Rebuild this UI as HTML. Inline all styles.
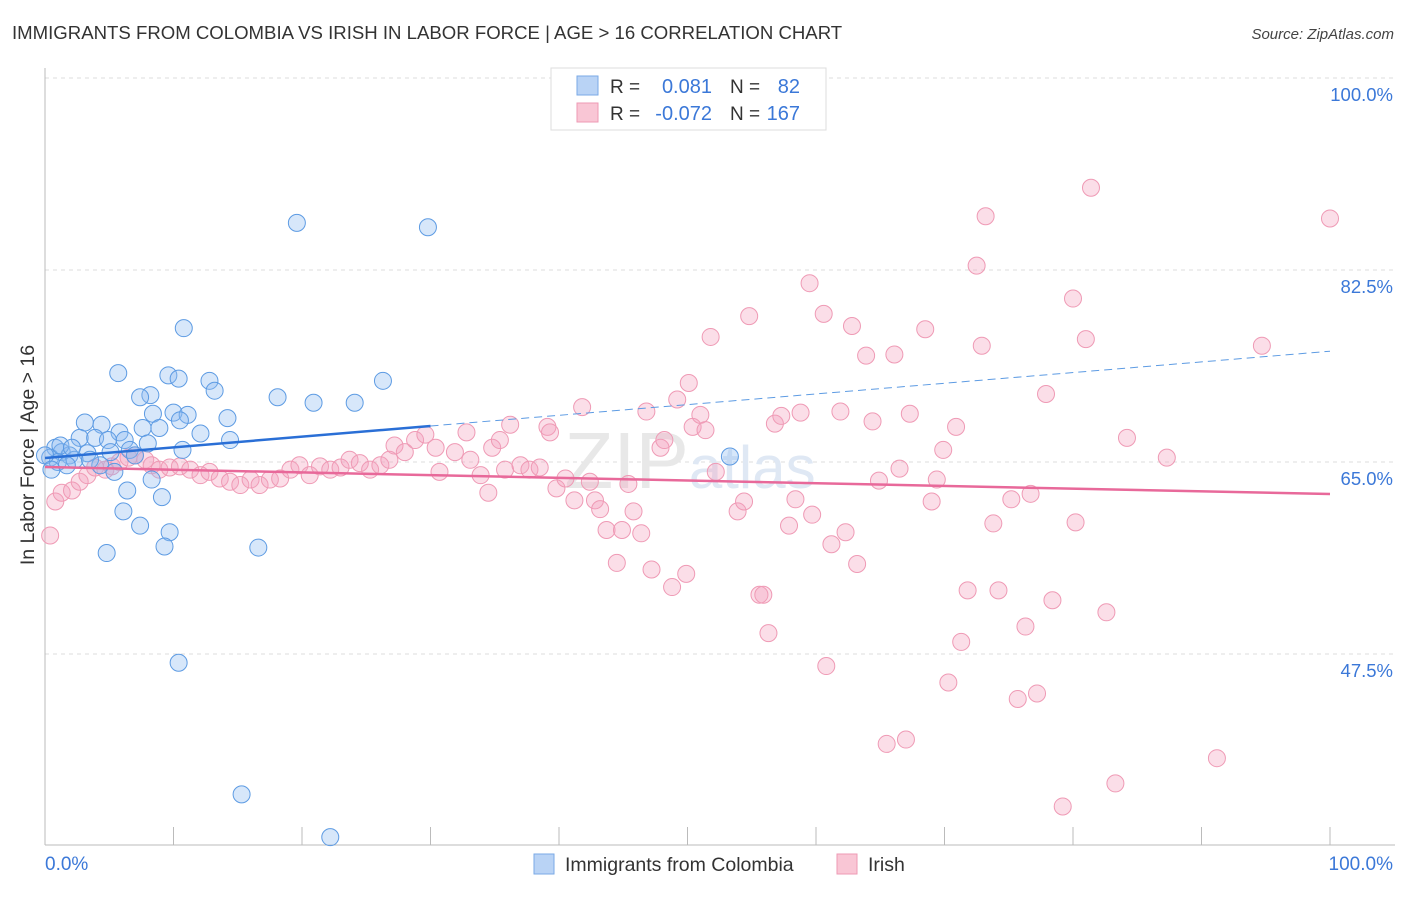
<!DOCTYPE html>
<html><head><meta charset="utf-8"><style>
body{margin:0;background:#fff;font-family:"Liberation Sans",sans-serif}
svg text{font-family:"Liberation Sans",sans-serif}
</style></head><body>
<svg id="chart" width="1406" height="892" xmlns="http://www.w3.org/2000/svg">
<text x="12" y="39" font-size="18.6" fill="#333">IMMIGRANTS FROM COLOMBIA VS IRISH IN LABOR FORCE | AGE &gt; 16 CORRELATION CHART</text>
<text x="1394" y="39" font-size="15" fill="#444" text-anchor="end" font-style="italic">Source: ZipAtlas.com</text>
<g id="grid"></g>
<text x="690" y="488" font-size="80" fill="#e8e8e8" text-anchor="middle" font-family="Liberation Serif">ZIP<tspan fill="#dfe8f4" font-family="Liberation Sans" font-size="60">atlas</tspan></text>
<g id="pts"></g>
<g id="lines"></g>
<text transform="translate(34,455) rotate(-90)" font-size="19.5" fill="#333" text-anchor="middle">In Labor Force | Age &gt; 16</text>
<text x="45" y="870" font-size="19" fill="#3b78d8">0.0%</text>
<text x="1393" y="870" font-size="19" fill="#3b78d8" text-anchor="end">100.0%</text>
<g>
<rect x="551" y="68" width="275" height="62" fill="#fff" stroke="#ddd"/>
<rect x="577" y="76" width="21" height="19" fill="#b9d3f5" stroke="#7aa9e6"/>
<rect x="577" y="103" width="21" height="19" fill="#f9c6d5" stroke="#ee9ab4"/>
<text x="610" y="93" font-size="19" fill="#333">R =</text><text x="712" y="93" font-size="20" fill="#3b78d8" text-anchor="end">0.081</text>
<text x="730" y="93" font-size="19" fill="#333">N =</text><text x="800" y="93" font-size="20" fill="#3b78d8" text-anchor="end">82</text>
<text x="610" y="120" font-size="19" fill="#333">R =</text><text x="712" y="120" font-size="20" fill="#3b78d8" text-anchor="end">-0.072</text>
<text x="730" y="120" font-size="19" fill="#333">N =</text><text x="800" y="120" font-size="20" fill="#3b78d8" text-anchor="end">167</text>
</g>
<g>
<rect x="534" y="854" width="20" height="20" fill="#b9d3f5" stroke="#7aa9e6"/>
<text x="565" y="871" font-size="19.5" fill="#333">Immigrants from Colombia</text>
<rect x="837" y="854" width="20" height="20" fill="#f9c6d5" stroke="#ee9ab4"/>
<text x="868" y="871" font-size="19.5" fill="#333">Irish</text>
</g>
</svg>
<script>
const yTicks=[100,82.5,65,47.5];
const yTickLabels=["100.0%","82.5%","65.0%","47.5%"];
const xTicks=[0,10,20,30,40,50,60,70,80,90,100];
const blueX=[19.6,29.8,10.8,5.7,9.6,10.4,12.8,26.3,8.2,7.4,13.2,18.1,20.9,24.1,8.4,10.0,11.1,14.2,3.1,4.4,5.8,7.6,8.9,12.1,2.7,3.9,4.9,6.2,8.0,10.7,0.8,1.3,1.9,3.3,5.1,6.6,0.4,1.0,2.3,4.3,5.4,1.7,6.4,8.3,9.1,6.1,7.4,9.7,4.8,9.3,16.6,10.4,15.3,22.2,0,0.5,3.5,7.0,1.2,2.1,10.5,14.4,53.3];
const blueY=[86.8,86.4,77.2,73.1,72.9,72.6,72.4,72.4,71.1,70.9,71.5,70.9,70.4,70.4,69.4,69.5,69.3,69.0,68.6,68.4,67.7,68.1,68.1,67.6,67.2,67.2,67.0,67.0,66.7,66.1,66.3,65.9,65.6,65.8,65.9,66.1,65.4,65.0,65.2,64.7,64.1,64.7,62.4,63.4,61.8,60.5,59.2,58.6,56.7,57.3,57.2,46.7,34.7,30.8,65.6,64.3,65.2,65.6,66.5,66.3,68.8,67.0,65.5];
const pinkX=[0.4,0.8,1.3,2.1,2.7,3.3,3.9,4.7,5.2,5.8,6.5,7.0,7.8,8.3,8.9,9.7,10.5,11.3,12.1,12.8,13.6,14.4,15.2,16.0,16.7,17.5,18.3,19.1,19.8,20.6,21.4,22.2,23.0,23.7,24.5,25.3,26.1,26.8,27.2,28.0,28.8,29.6,30.4,30.7,31.9,32.8,33.1,33.9,34.5,34.8,35.4,35.8,36.2,37.0,37.7,38.5,39.1,39.3,39.8,40.5,41.2,41.8,42.4,42.8,43.2,43.7,44.5,44.9,45.4,45.8,46.4,46.8,47.2,47.9,48.2,48.8,49.2,49.9,50.1,50.4,51.0,51.4,51.8,52.2,53.9,54.4,54.8,55.6,55.9,56.3,56.8,57.3,57.9,58.4,58.8,59.5,59.7,60.6,60.8,61.2,61.9,62.3,62.8,63.2,63.9,64.4,64.9,65.5,66.1,66.5,67.0,67.3,68.5,69.0,69.4,69.9,70.3,70.9,71.3,71.8,72.5,72.9,73.2,73.8,74.2,75.2,75.7,76.3,76.7,77.2,77.9,78.4,79.2,80.0,80.2,81.0,81.4,82.6,83.3,84.2,87.3,91.2,94.7,100.0];
const pinkY=[58.3,61.4,62.2,62.4,63.2,63.8,64.5,64.3,64.6,65.0,65.4,65.6,65.2,64.7,64.3,64.5,64.6,64.3,63.8,64.1,63.5,63.2,62.9,63.4,62.9,63.4,63.5,64.3,64.7,63.8,64.6,64.3,64.5,65.2,64.9,64.3,64.7,65.2,66.5,65.9,67.0,67.5,66.3,64.1,65.9,67.7,65.2,63.8,62.2,66.3,67.0,64.3,68.4,64.7,64.3,64.5,68.2,67.7,62.6,63.5,61.5,70.0,63.2,61.5,60.7,58.8,55.8,58.8,63.0,60.5,58.5,69.6,55.2,66.3,67.0,53.6,70.7,54.8,72.2,68.2,69.3,67.9,76.4,64.1,60.5,61.4,78.3,52.9,52.9,49.4,68.5,69.2,59.2,61.6,69.5,81.3,60.2,78.5,46.4,57.5,69.6,58.6,77.4,55.7,74.7,68.7,63.3,39.3,74.8,64.4,39.7,69.4,77.1,61.4,63.4,66.1,44.9,68.2,48.6,53.3,82.9,75.6,87.4,59.4,53.3,61.6,43.4,50.0,62.1,43.9,71.2,52.4,33.6,79.9,59.5,76.2,90.0,51.3,35.7,67.2,65.4,38.0,75.6,87.2];
const blueTrend=[65.36,75.1];
const pinkTrend=[64.54,62.08];
const blueSolidEnd=30;

const NS="http://www.w3.org/2000/svg";
const X=v=>45+v*12.85;
const Y=v=>462-(v-65)*10.97;
function mk(t,a,p){const e=document.createElementNS(NS,t);for(const k in a)e.setAttribute(k,a[k]);p.appendChild(e);return e;}
const grid=document.getElementById('grid');
yTicks.forEach((t,i)=>{
  const l=mk('line',{x1:45,x2:1395,y1:Y(t),y2:Y(t),stroke:'#ddd','stroke-dasharray':'4,4'},grid);
  
  
  const tx=mk('text',{x:1393,y:Y(t)+23,'font-size':18.5,fill:'#3b78d8','text-anchor':'end'},grid);
  tx.textContent=yTickLabels[i];
  
  
});
const ax=mk('line',{x1:45,x2:45,y1:68,y2:845,stroke:'#bbb'},grid);


const bx=mk('line',{x1:45,x2:1395,y1:845,y2:845,stroke:'#bbb'},grid);


xTicks.forEach(t=>{
  const l=mk('line',{x1:X(t),x2:X(t),y1:827,y2:845,stroke:'#bbb'},grid);
  
  
});
const pts=document.getElementById('pts');
pinkX.forEach((x,i)=>{
  const c=mk('circle',{cx:X(x),cy:Y(pinkY[i]),r:8.5,fill:'rgba(244,160,188,0.35)',stroke:'#ef9ab5','stroke-width':1},pts);
  
  
});
blueX.forEach((x,i)=>{
  const c=mk('circle',{cx:X(x),cy:Y(blueY[i]),r:8.5,fill:'rgba(140,185,240,0.35)',stroke:'#5d9be3','stroke-width':1},pts);
  
  
});
const lines=document.getElementById('lines');
const bAt=x=>blueTrend[0]+(blueTrend[1]-blueTrend[0])*x/100;
const b1=mk('line',{x1:X(0),y1:Y(bAt(0)),x2:X(blueSolidEnd),y2:Y(bAt(blueSolidEnd)),stroke:'#2a6fd6','stroke-width':2.5},lines);


const b2=mk('line',{x1:X(blueSolidEnd),y1:Y(bAt(blueSolidEnd)),x2:X(100),y2:Y(bAt(100)),stroke:'#5d9be3','stroke-width':1,'stroke-dasharray':'8,5'},lines);


const p1=mk('line',{x1:X(0),y1:Y(pinkTrend[0]),x2:X(100),y2:Y(pinkTrend[1]),stroke:'#e8699a','stroke-width':2.5},lines);


</script>
</body></html>
